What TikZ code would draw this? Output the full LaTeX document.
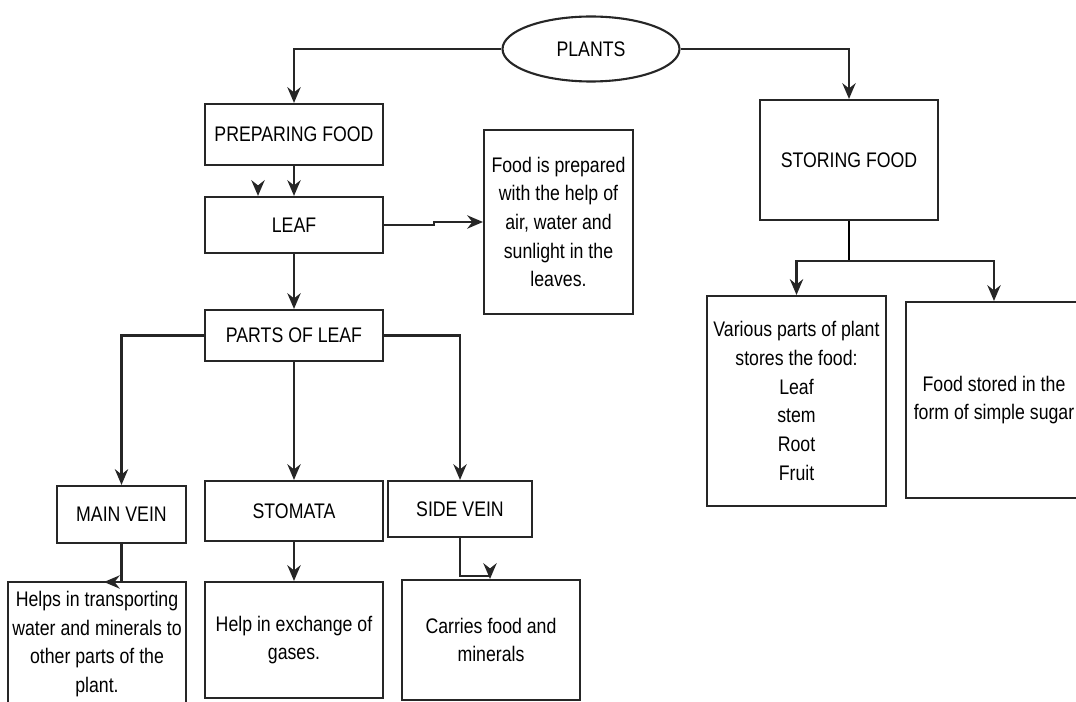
\documentclass[tikz,border=0pt]{standalone}
\usepackage{fontspec}
\setmainfont{Liberation Sans}[FakeStretch=0.84]
\usepackage{tikz}
\usetikzlibrary{
    arrows.meta,
    positioning,
    shapes.geometric
}

\begin{document}
\begin{tikzpicture}[x=0.02cm,y=-0.02cm,line width=1.2pt,
    box/.style={draw=black!85,fill=white,inner sep=0pt,align=center,
                font=\fontsize{12}{16.3}\selectfont},
    oval/.style={ellipse,draw=black!85,fill=white,inner sep=0pt,
                 font=\fontsize{12}{16.3}\selectfont},
    arr/.style={draw=black!85,-{Stealth[length=9pt,width=7.6pt,inset=3pt]}}]

\useasboundingbox (0,0) rectangle (1076,702);

% Top
\node[oval,minimum width=3.54cm,minimum height=1.3cm] (plants) at (591,49) {PLANTS};

% Preparing side
\node[box,minimum width=3.56cm,minimum height=1.22cm] (prep) at (294,134.5) {PREPARING FOOD};
\node[box,minimum width=3.56cm,minimum height=1.12cm] (leaf) at (294,225) {LEAF};
\node[box,minimum width=2.98cm,minimum height=3.68cm] (foodprep) at (558.5,222)
    {Food is prepared\\with the help of\\air, water and\\sunlight in the\\leaves.};
\node[box,minimum width=3.56cm,minimum height=1.02cm] (parts) at (294,335.5) {PARTS OF LEAF};

% Parts of leaf
\node[box,minimum width=2.58cm,minimum height=1.14cm] (mainvein) at (121.5,514.5) {MAIN VEIN};
\node[box,minimum width=3.56cm,minimum height=1.2cm] (stomata) at (294,511) {STOMATA};
\node[box,minimum width=2.88cm,minimum height=1.12cm] (sidevein) at (460,509) {SIDE VEIN};

\node[box,minimum width=3.56cm,minimum height=2.48cm] (helps) at (97,644)
    {Helps in transporting\\water and minerals to\\other parts of the\\plant.};
\node[box,minimum width=3.56cm,minimum height=2.32cm] (exchange) at (294,640)
    {Help in exchange of\\gases.};
\node[box,minimum width=3.56cm,minimum height=2.4cm] (carries) at (491,640)
    {Carries food and\\minerals};

% Storing side
\node[box,minimum width=3.56cm,minimum height=2.4cm] (storing) at (849,160) {STORING FOOD};
\node[box,minimum width=3.58cm,minimum height=4.2cm] (various) at (796.5,401)
    {Various parts of plant\\stores the food:\\Leaf\\stem\\Root\\Fruit};
\node[box,minimum width=3.52cm,minimum height=3.92cm] (foodstored) at (994,400)
    {Food stored in the\\form of simple sugar};

% Connectors
\draw[arr] (plants.west) -| (prep.north);
\draw[arr] (plants.east) -| (storing.north);
\draw[arr] (prep.south) -- (leaf.north);
\coordinate (stray) at (258,186);
\draw[arr] (stray) -- (stray |- leaf.north);
\draw[arr] (leaf.east) -- ++(50,0) |- (foodprep.west);
\draw[arr] (leaf.south) -- (parts.north);

\draw[arr] (parts.west) -| (mainvein.north);
\draw[arr] (parts.south) -- (stomata.north);
\draw[arr] (parts.east) -| (sidevein.north);

\coordinate (mvend) at (104,582);
\draw[arr] (mainvein.south) |- (mvend);
\draw[arr] (stomata.south) -- (exchange.north);
\coordinate (svend) at (490,576);
\draw[arr] (sidevein.south) |- (svend) -- (svend |- carries.north);

\coordinate (split) at (849,261);
\draw (storing.south) -- (split);
\draw[arr] (split) -| (various.north);
\draw[arr] (split) -| (foodstored.north);

\end{tikzpicture}
\end{document}
